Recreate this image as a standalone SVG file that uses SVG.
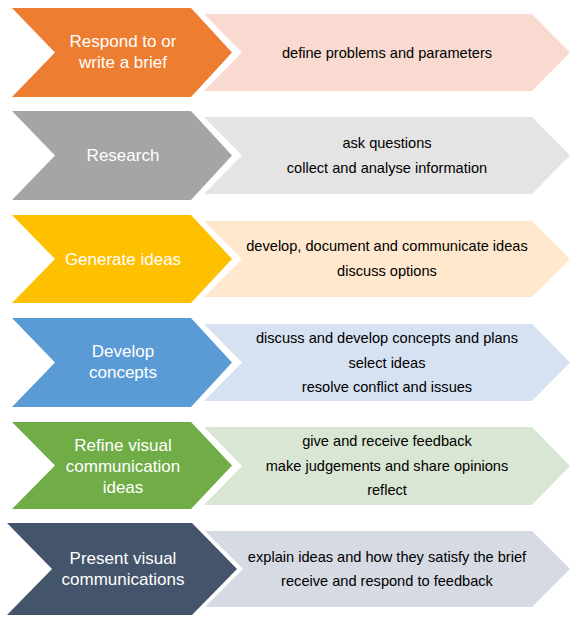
<svg xmlns="http://www.w3.org/2000/svg" width="584" height="624" viewBox="0 0 584 624">
<style>
.h{font-family:"Liberation Sans",Arial,sans-serif;font-size:17px;fill:#ffffff;text-anchor:middle}
.d{font-family:"Liberation Sans",Arial,sans-serif;font-size:14.6px;fill:#000000;text-anchor:middle}
</style>
<rect width="584" height="624" fill="#ffffff"/>
<g id="connectors"/>
<g id="step1">
<polygon points="204,14 532,14 570,52.5 532,91 204,91 242,52.5" fill="#F8DAD1"/>
<polygon points="12,8 191,8 232,52.5 191,97 12,97 55,52.5" fill="#ED7D31"/>
<text class="h" x="123" y="47">Respond to or</text>
<text class="h" x="123" y="68">write a brief</text>
<text class="d" x="387" y="57.5">define problems and parameters</text>
</g>
<g id="step2">
<polygon points="204,117 532,117 570,155.5 532,194 204,194 242,155.5" fill="#E4E4E4"/>
<polygon points="12,111 191,111 232,155.5 191,200 12,200 55,155.5" fill="#A5A5A5"/>
<text class="h" x="123" y="161">Research</text>
<text class="d" x="387" y="147.5">ask questions</text>
<text class="d" x="387" y="172.5">collect and analyse information</text>
</g>
<g id="step3">
<polygon points="204,221 532,221 570,259 532,297 204,297 242,259" fill="#FFE8CD"/>
<polygon points="12,215 191,215 232,259 191,303 12,303 55,259" fill="#FFC000"/>
<text class="h" x="123" y="265">Generate ideas</text>
<text class="d" x="387" y="251">develop, document and communicate ideas</text>
<text class="d" x="387" y="275.5">discuss options</text>
</g>
<g id="step4">
<polygon points="204,324 532,324 570,362.5 532,401 204,401 242,362.5" fill="#D6E1F1"/>
<polygon points="12,318 191,318 232,362.5 191,407 12,407 55,362.5" fill="#5B9BD5"/>
<text class="h" x="123" y="357">Develop</text>
<text class="h" x="123" y="378">concepts</text>
<text class="d" x="387" y="343">discuss and develop concepts and plans</text>
<text class="d" x="387" y="367.5">select ideas</text>
<text class="d" x="387" y="392">resolve conflict and issues</text>
</g>
<g id="step5">
<polygon points="204,427 532,427 570,466 532,505 204,505 242,466" fill="#D9E6D3"/>
<polygon points="12,422 191,422 232,465.5 191,509 12,509 55,465.5" fill="#70AD47"/>
<text class="h" x="123" y="450.5">Refine visual</text>
<text class="h" x="123" y="471.5">communication</text>
<text class="h" x="123" y="492.5">ideas</text>
<text class="d" x="387" y="446">give and receive feedback</text>
<text class="d" x="387" y="470.5">make judgements and share opinions</text>
<text class="d" x="387" y="495">reflect</text>
</g>
<g id="step6">
<polygon points="205,531 532,531 570,569 532,607 205,607 243,569" fill="#D5DAE3"/>
<polygon points="7,523 192,523 237,569 192,615 7,615 52,569" fill="#44546A"/>
<text class="h" x="123" y="564">Present visual</text>
<text class="h" x="123" y="585">communications</text>
<text class="d" x="387" y="561.5">explain ideas and how they satisfy the brief</text>
<text class="d" x="387" y="586">receive and respond to feedback</text>
</g>
</svg>
